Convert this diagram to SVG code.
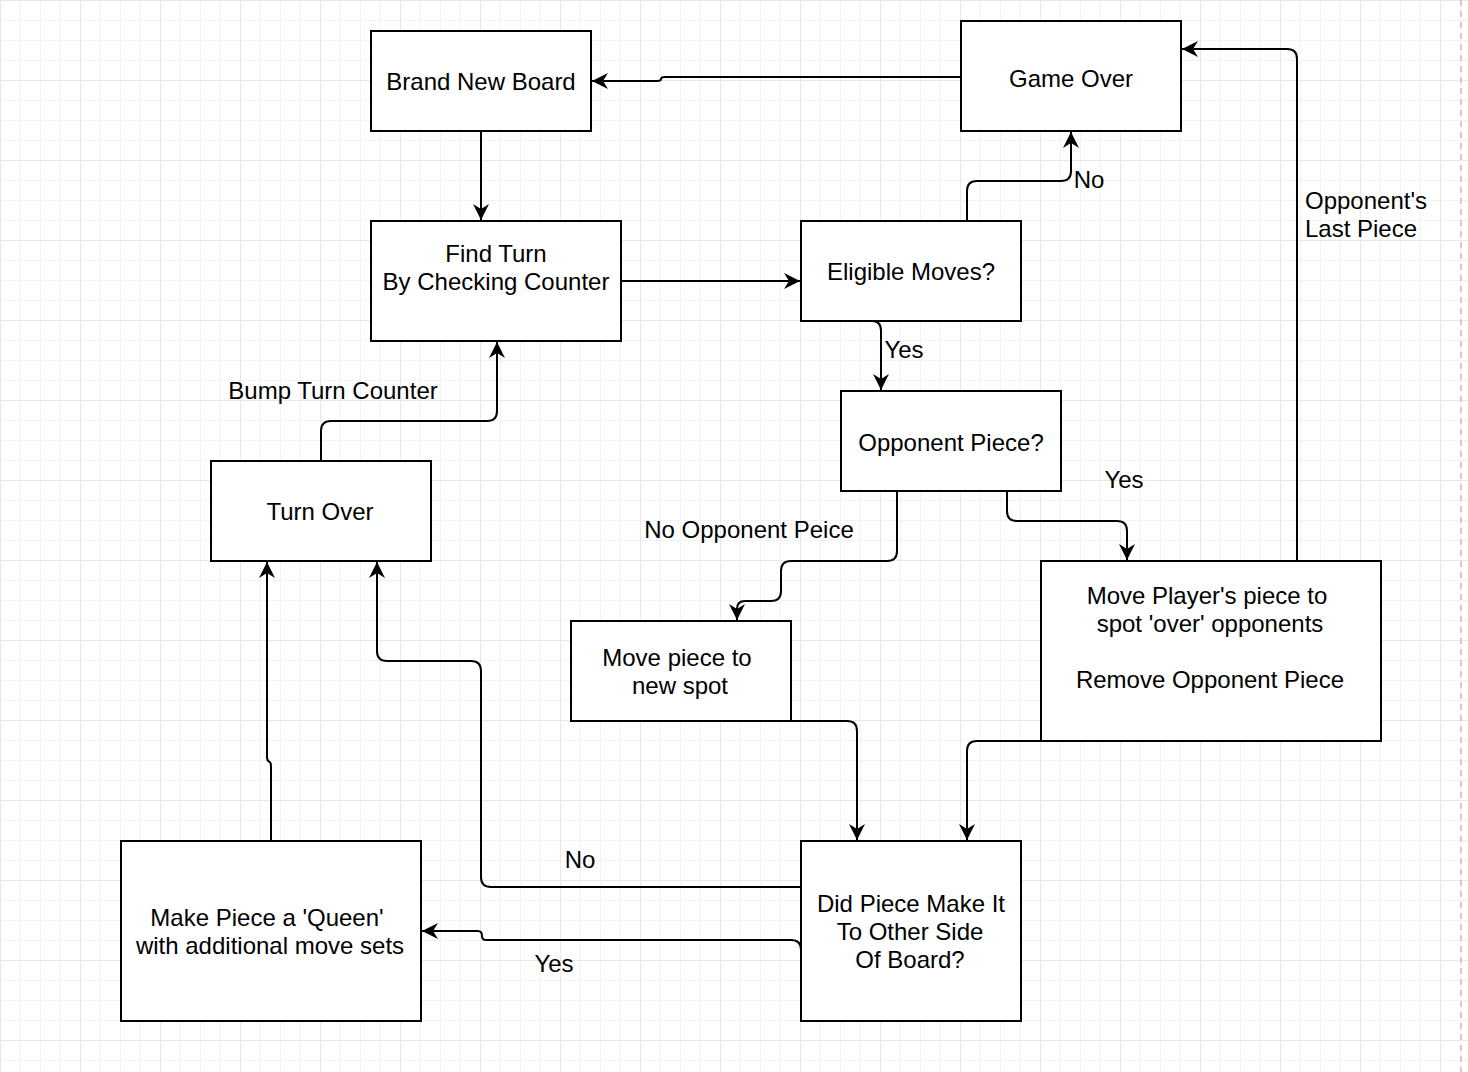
<svg xmlns="http://www.w3.org/2000/svg" width="1468" height="1072" viewBox="0 0 1468 1072">
  <defs>
    <pattern id="grid" patternUnits="userSpaceOnUse" width="80" height="80">
      <rect width="80" height="80" fill="#ffffff"/>
      <path d="M20.5 0V80M40.5 0V80M60.5 0V80M0 20.5H80M0 40.5H80M0 60.5H80" stroke="#f3f3f3" stroke-width="1" fill="none"/>
      <path d="M0.5 0V80M0 0.5H80" stroke="#e8e8e8" stroke-width="1" fill="none"/>
    </pattern>
    <marker id="arr" markerUnits="userSpaceOnUse" markerWidth="18" markerHeight="18" refX="16" refY="8" orient="auto">
      <path d="M16 8 L0 0 L5 8 L0 16 Z" fill="#000"/>
    </marker>
    <style>
      .box { fill: #ffffff; stroke: #000; stroke-width: 2; }
      .t { font-family: "Liberation Sans", Arial, Helvetica, sans-serif; font-size: 24px; fill: #000; text-anchor: middle; }
      .l { text-anchor: start; }
      .c { fill: none; stroke: #000; stroke-width: 2; marker-end: url(#arr); }
    </style>
  </defs>
  <rect width="1468" height="1072" fill="url(#grid)"/>
  <line x1="1461" y1="0" x2="1461" y2="1072" stroke="#c0c0c0" stroke-width="1.5" stroke-dasharray="6 5"/>

  <g id="connectors">
    <path class="c" d="M961 77 L665 77 Q661 77 661 79 Q661 81 657 81 L592 81"/>
    <path class="c" d="M481 131 L481 220"/>
    <path class="c" d="M621 281 L800 281"/>
    <path class="c" d="M967 221 L967 191 Q967 181 977 181 L1061 181 Q1071 181 1071 171 L1071 132"/>
    <path class="c" d="M872 321 Q881 321 881 331 L881 390"/>
    <path class="c" d="M897 491 L897 551 Q897 561 887 561 L791 561 Q781 561 781 571 L781 591 Q781 601 771 601 L745 601 Q737 601 737 609 L737 620"/>
    <path class="c" d="M1007 491 L1007 511 Q1007 521 1017 521 L1117 521 Q1127 521 1127 531 L1127 560"/>
    <path class="c" d="M1297 561 L1297 59 Q1297 49 1287 49 L1182 49"/>
    <path class="c" d="M791 721 L847 721 Q857 721 857 731 L857 840"/>
    <path class="c" d="M1041 741 L977 741 Q967 741 967 751 L967 840"/>
    <path class="c" d="M801 887 L491 887 Q481 887 481 877 L481 671 Q481 661 471 661 L387 661 Q377 661 377 651 L377 562"/>
    <path class="c" d="M801 960 L801 950 Q801 940 791 940 L486 940 Q482 940 482 936 Q482 931 478 931 L422 931"/>
    <path class="c" d="M271 841 L271 766 Q271 762 269 761.5 Q267 761 267 757 L267 562"/>
    <path class="c" d="M321 461 L321 431 Q321 421 331 421 L487 421 Q497 421 497 411 L497 342"/>
    <text class="t" x="1089" y="187.5">No</text>
    <text class="t" x="904" y="357.5">Yes</text>
    <text class="t" x="1124" y="487.5">Yes</text>
    <text class="t" x="749" y="537.5">No Opponent Peice</text>
    <text class="t l" x="1305" y="208.5">Opponent's</text>
    <text class="t l" x="1305" y="236.5">Last Piece</text>
    <text class="t" x="333" y="398.5">Bump Turn Counter</text>
    <text class="t" x="580" y="867.5">No</text>
    <text class="t" x="554" y="971.5">Yes</text>
  </g>

  <g id="brand-new-board">
    <rect class="box" x="371" y="31" width="220" height="100"/>
    <text class="t" x="481" y="89.5">Brand New Board</text>
  </g>
  <g id="game-over">
    <rect class="box" x="961" y="21" width="220" height="110"/>
    <text class="t" x="1071" y="86.5">Game Over</text>
  </g>
  <g id="find-turn">
    <rect class="box" x="371" y="221" width="250" height="120"/>
    <text class="t" x="496" y="261.5">Find Turn</text>
    <text class="t" x="496" y="289.5">By Checking Counter</text>
  </g>
  <g id="eligible-moves">
    <rect class="box" x="801" y="221" width="220" height="100"/>
    <text class="t" x="911" y="279.5">Eligible Moves?</text>
  </g>
  <g id="opponent-piece">
    <rect class="box" x="841" y="391" width="220" height="100"/>
    <text class="t" x="951" y="450.5">Opponent Piece?</text>
  </g>
  <g id="turn-over">
    <rect class="box" x="211" y="461" width="220" height="100"/>
    <text class="t" x="320" y="519.5">Turn Over</text>
  </g>
  <g id="move-piece">
    <rect class="box" x="571" y="621" width="220" height="100"/>
    <text class="t" x="677" y="665.5">Move piece to</text>
    <text class="t" x="680" y="693.5">new spot</text>
  </g>
  <g id="move-players-piece">
    <rect class="box" x="1041" y="561" width="340" height="180"/>
    <text class="t" x="1207" y="603.5">Move Player's piece to</text>
    <text class="t" x="1210" y="631.5">spot 'over' opponents</text>
    <text class="t" x="1210" y="687.5">Remove Opponent Piece</text>
  </g>
  <g id="make-queen">
    <rect class="box" x="121" y="841" width="300" height="180"/>
    <text class="t" x="267" y="925.5">Make Piece a 'Queen'</text>
    <text class="t" x="270" y="953.5">with additional move sets</text>
  </g>
  <g id="did-piece">
    <rect class="box" x="801" y="841" width="220" height="180"/>
    <text class="t" x="911" y="911.5">Did Piece Make It</text>
    <text class="t" x="910" y="939.5">To Other Side</text>
    <text class="t" x="910" y="967.5">Of Board?</text>
  </g>
</svg>
